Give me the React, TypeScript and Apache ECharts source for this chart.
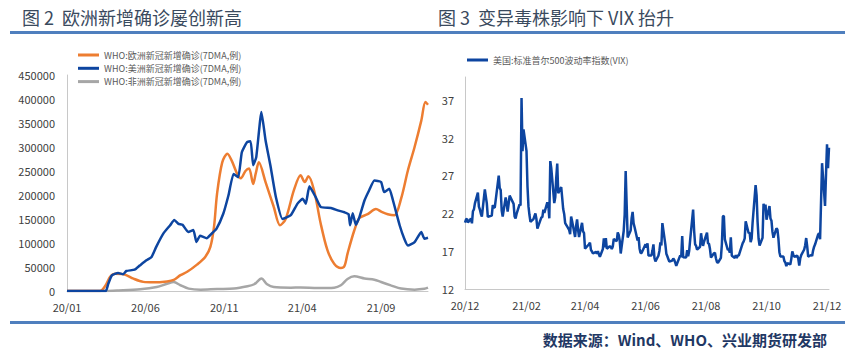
import React, { useEffect, useRef } from 'react';
import * as echarts from 'echarts';

// ---------- Left chart: WHO new cases (7DMA) ----------
const leftStart = '2020-01-01';
const leftEnd = '2021-12-01';
const leftLabelDates = ['2020-01-01', '2020-06-01', '2020-11-01', '2021-04-01', '2021-09-01'];

const europeDates = [
  '2020-01-01', '2020-03-05', '2020-03-16', '2020-03-25', '2020-04-03', '2020-04-20', '2020-05-09',
  '2020-05-28', '2020-06-17', '2020-07-13', '2020-07-26', '2020-08-08', '2020-08-21', '2020-09-09',
  '2020-09-25', '2020-10-05', '2020-10-12', '2020-10-18', '2020-10-28', '2020-11-07', '2020-11-16',
  '2020-11-26', '2020-12-03', '2020-12-12', '2020-12-19', '2020-12-27', '2021-01-01', '2021-01-07',
  '2021-01-20', '2021-02-05', '2021-02-17', '2021-02-28', '2021-03-16', '2021-03-29', '2021-04-06',
  '2021-04-13', '2021-04-24', '2021-05-07', '2021-05-20', '2021-06-02', '2021-06-15', '2021-06-22',
  '2021-06-28', '2021-07-11', '2021-07-21', '2021-08-06', '2021-08-22', '2021-09-02', '2021-09-14',
  '2021-09-27', '2021-10-10', '2021-10-23', '2021-11-05', '2021-11-18', '2021-11-26', '2021-12-01',
];
const europeValues = [
  0, 0, 12000, 30000, 36000, 35000, 25700,
  19000, 18000, 20000, 23000, 33000, 40000, 55000,
  71000, 92000, 133000, 203000, 268000, 286000, 270000,
  244000, 235000, 250000, 255000, 223000, 245000, 268000,
  227000, 175000, 137000, 150000, 210000, 241000, 227000,
  239000, 210000, 140000, 85000, 57000, 48000, 52000,
  78000, 126000, 152000, 160000, 171000, 165000, 160000,
  158000, 193000, 251000, 300000, 355000, 394000, 388000,
];

const americasDates = [
  '2020-01-01', '2020-03-16', '2020-03-21', '2020-03-28', '2020-04-09', '2020-04-19', '2020-04-25',
  '2020-05-11', '2020-05-21', '2020-06-03', '2020-06-13', '2020-06-22', '2020-07-06', '2020-07-19',
  '2020-07-27', '2020-08-04', '2020-08-12', '2020-08-23', '2020-09-02', '2020-09-08', '2020-09-15',
  '2020-09-28', '2020-10-07', '2020-10-17', '2020-10-30', '2020-11-09', '2020-11-19', '2020-11-28',
  '2020-12-05', '2020-12-15', '2020-12-22', '2020-12-27', '2021-01-02', '2021-01-12', '2021-01-20',
  '2021-01-30', '2021-02-09', '2021-02-22', '2021-03-10', '2021-03-23', '2021-04-02', '2021-04-08',
  '2021-04-15', '2021-04-27', '2021-05-07', '2021-05-27', '2021-06-09', '2021-06-22', '2021-06-30',
  '2021-07-03', '2021-07-08', '2021-07-14', '2021-07-21', '2021-07-31', '2021-08-09', '2021-08-19',
  '2021-09-01', '2021-09-07', '2021-09-17', '2021-09-24', '2021-10-07', '2021-10-16', '2021-10-23',
  '2021-11-05', '2021-11-18', '2021-11-24', '2021-12-01',
];
const americasValues = [
  0, 0, 15000, 32700, 37500, 35000, 41600,
  44400, 53000, 64000, 71000, 92000, 120000, 137000,
  148000, 140000, 138000, 123000, 127000, 102000, 115000,
  110000, 119000, 130000, 161000, 199000, 244000, 237000,
  289000, 310000, 312000, 262000, 279000, 373000, 314000,
  258000, 196000, 150000, 158000, 182000, 192000, 182000,
  218000, 196000, 175000, 173000, 168000, 164000, 160000,
  137000, 162000, 138000, 154000, 189000, 210000, 230000,
  227000, 206000, 213000, 189000, 137000, 109000, 95000,
  102000, 123000, 109000, 111000,
];

const africaDates = [
  '2020-01-01', '2020-03-15', '2020-04-10', '2020-05-22', '2020-06-23', '2020-07-13', '2020-07-26',
  '2020-08-08', '2020-08-24', '2020-09-16', '2020-10-18', '2020-11-20', '2020-12-16', '2020-12-29',
  '2021-01-12', '2021-01-23', '2021-02-05', '2021-03-10', '2021-03-29', '2021-05-01', '2021-06-02',
  '2021-06-15', '2021-06-28', '2021-07-11', '2021-07-31', '2021-08-19', '2021-09-01', '2021-09-20',
  '2021-10-10', '2021-11-05', '2021-11-24', '2021-12-01',
];
const africaValues = [
  0, 0, 1000, 3500, 8300, 15000, 18500,
  12000, 5000, 2800, 4200, 5000, 9700, 14000,
  26000, 14000, 8300, 7000, 7500, 6200, 7000,
  12000, 25000, 30500, 26000, 23600, 18700, 11800,
  5000, 2800, 4500, 7000,
];

// ---------- Right chart: VIX ----------
const rightStart = '2020-12-01';
const rightEnd = '2021-12-03';
const rightLabelDates = ['2020-12-01', '2021-02-01', '2021-04-01', '2021-06-01', '2021-08-01', '2021-10-01', '2021-12-01'];

const vixData: [string, number][] = [
  ['2020-12-01', 20.77], ['2020-12-02', 21.17], ['2020-12-03', 21.28], ['2020-12-04', 20.79],
  ['2020-12-07', 21.3], ['2020-12-08', 20.68], ['2020-12-09', 22.27], ['2020-12-10', 22.52],
  ['2020-12-11', 23.31], ['2020-12-14', 24.72], ['2020-12-15', 22.89], ['2020-12-16', 22.5],
  ['2020-12-17', 21.93], ['2020-12-18', 21.57], ['2020-12-21', 25.16], ['2020-12-22', 24.23],
  ['2020-12-23', 23.31], ['2020-12-24', 21.53], ['2020-12-28', 21.7], ['2020-12-29', 23.08],
  ['2020-12-30', 22.77], ['2020-12-31', 22.75],
  ['2021-01-04', 26.97], ['2021-01-05', 25.34], ['2021-01-06', 25.07], ['2021-01-07', 22.37],
  ['2021-01-08', 21.56], ['2021-01-11', 24.08], ['2021-01-12', 23.33], ['2021-01-13', 22.21],
  ['2021-01-14', 23.25], ['2021-01-15', 24.34], ['2021-01-19', 23.24], ['2021-01-20', 21.58],
  ['2021-01-21', 21.32], ['2021-01-22', 21.91], ['2021-01-25', 23.19], ['2021-01-26', 23.02],
  ['2021-01-27', 37.21], ['2021-01-28', 30.21], ['2021-01-29', 33.09],
  ['2021-02-01', 30.24], ['2021-02-02', 25.56], ['2021-02-03', 22.91], ['2021-02-04', 21.77],
  ['2021-02-05', 20.87], ['2021-02-08', 21.24], ['2021-02-09', 21.63], ['2021-02-10', 21.99],
  ['2021-02-11', 21.25], ['2021-02-12', 19.97], ['2021-02-16', 21.46], ['2021-02-17', 21.5],
  ['2021-02-18', 22.49], ['2021-02-19', 22.05], ['2021-02-22', 23.45], ['2021-02-23', 23.11],
  ['2021-02-24', 21.34], ['2021-02-25', 28.89], ['2021-02-26', 27.95],
  ['2021-03-01', 23.35], ['2021-03-02', 24.1], ['2021-03-03', 26.67], ['2021-03-04', 28.57],
  ['2021-03-05', 24.66], ['2021-03-08', 25.47], ['2021-03-09', 24.03], ['2021-03-10', 22.56],
  ['2021-03-11', 21.91], ['2021-03-12', 20.69], ['2021-03-15', 20.03], ['2021-03-16', 19.79],
  ['2021-03-17', 19.23], ['2021-03-18', 21.58], ['2021-03-19', 20.95], ['2021-03-22', 18.88],
  ['2021-03-23', 20.3], ['2021-03-24', 21.2], ['2021-03-25', 19.81], ['2021-03-26', 18.86],
  ['2021-03-29', 20.74], ['2021-03-30', 19.61], ['2021-03-31', 19.4],
  ['2021-04-01', 17.33], ['2021-04-05', 17.91], ['2021-04-06', 18.12], ['2021-04-07', 17.16],
  ['2021-04-08', 16.95], ['2021-04-09', 16.69], ['2021-04-12', 16.91], ['2021-04-13', 16.65],
  ['2021-04-14', 16.99], ['2021-04-15', 16.57], ['2021-04-16', 16.25], ['2021-04-19', 17.29],
  ['2021-04-20', 18.68], ['2021-04-21', 17.5], ['2021-04-22', 18.71], ['2021-04-23', 17.33],
  ['2021-04-26', 17.64], ['2021-04-27', 17.56], ['2021-04-28', 17.28], ['2021-04-29', 17.61],
  ['2021-04-30', 18.61],
  ['2021-05-03', 18.31], ['2021-05-04', 19.48], ['2021-05-05', 19.15], ['2021-05-06', 18.39],
  ['2021-05-07', 16.69], ['2021-05-10', 19.66], ['2021-05-11', 21.84], ['2021-05-12', 27.59],
  ['2021-05-13', 23.13], ['2021-05-14', 18.81], ['2021-05-17', 19.72], ['2021-05-18', 21.34],
  ['2021-05-19', 22.18], ['2021-05-20', 20.67], ['2021-05-21', 20.15], ['2021-05-24', 18.4],
  ['2021-05-25', 18.84], ['2021-05-26', 17.36], ['2021-05-27', 16.74], ['2021-05-28', 16.76],
  ['2021-06-01', 17.9], ['2021-06-02', 17.48], ['2021-06-03', 18.04], ['2021-06-04', 16.42],
  ['2021-06-07', 16.42], ['2021-06-08', 17.07], ['2021-06-09', 17.89], ['2021-06-10', 16.1],
  ['2021-06-11', 15.65], ['2021-06-14', 16.39], ['2021-06-15', 17.02], ['2021-06-16', 18.15],
  ['2021-06-17', 17.75], ['2021-06-18', 20.7], ['2021-06-21', 17.89], ['2021-06-22', 16.66],
  ['2021-06-23', 16.32], ['2021-06-24', 15.97], ['2021-06-25', 15.62], ['2021-06-28', 15.76],
  ['2021-06-29', 16.02], ['2021-06-30', 15.83],
  ['2021-07-01', 15.48], ['2021-07-02', 15.07], ['2021-07-06', 16.44], ['2021-07-07', 16.2],
  ['2021-07-08', 19.0], ['2021-07-09', 16.18], ['2021-07-12', 16.17], ['2021-07-13', 17.12],
  ['2021-07-14', 16.33], ['2021-07-15', 17.01], ['2021-07-16', 18.45], ['2021-07-19', 22.5],
  ['2021-07-20', 19.73], ['2021-07-21', 17.91], ['2021-07-22', 17.69], ['2021-07-23', 17.2],
  ['2021-07-26', 17.58], ['2021-07-27', 19.36], ['2021-07-28', 18.31], ['2021-07-29', 17.7],
  ['2021-07-30', 18.24],
  ['2021-08-02', 19.46], ['2021-08-03', 18.04], ['2021-08-04', 17.97], ['2021-08-05', 17.28],
  ['2021-08-06', 16.15], ['2021-08-09', 16.72], ['2021-08-10', 16.79], ['2021-08-11', 16.06],
  ['2021-08-12', 15.59], ['2021-08-13', 15.45], ['2021-08-16', 16.12], ['2021-08-17', 17.91],
  ['2021-08-18', 21.57], ['2021-08-19', 21.67], ['2021-08-20', 18.56], ['2021-08-23', 17.15],
  ['2021-08-24', 17.22], ['2021-08-25', 16.79], ['2021-08-26', 18.84], ['2021-08-27', 16.39],
  ['2021-08-30', 16.11], ['2021-08-31', 16.48],
  ['2021-09-01', 16.11], ['2021-09-02', 16.41], ['2021-09-03', 16.41], ['2021-09-07', 18.05],
  ['2021-09-08', 18.29], ['2021-09-09', 18.68], ['2021-09-10', 20.95], ['2021-09-13', 19.37],
  ['2021-09-14', 19.46], ['2021-09-15', 18.18], ['2021-09-16', 18.69], ['2021-09-17', 20.81],
  ['2021-09-20', 25.71], ['2021-09-21', 24.36], ['2021-09-22', 20.87], ['2021-09-23', 18.63],
  ['2021-09-24', 17.75], ['2021-09-27', 18.76], ['2021-09-28', 23.25], ['2021-09-29', 22.56],
  ['2021-09-30', 23.14],
  ['2021-10-01', 21.15], ['2021-10-04', 22.96], ['2021-10-05', 21.3], ['2021-10-06', 21.0],
  ['2021-10-07', 19.54], ['2021-10-08', 18.77], ['2021-10-11', 20.0], ['2021-10-12', 19.85],
  ['2021-10-13', 18.64], ['2021-10-14', 16.86], ['2021-10-15', 16.3], ['2021-10-18', 16.3],
  ['2021-10-19', 15.7], ['2021-10-20', 15.49], ['2021-10-21', 15.01], ['2021-10-22', 15.43],
  ['2021-10-25', 15.24], ['2021-10-26', 15.98], ['2021-10-27', 16.98], ['2021-10-28', 16.53],
  ['2021-10-29', 16.26],
  ['2021-11-01', 16.41], ['2021-11-02', 16.03], ['2021-11-03', 15.1], ['2021-11-04', 16.03],
  ['2021-11-05', 16.48], ['2021-11-08', 17.22], ['2021-11-09', 17.78], ['2021-11-10', 18.73],
  ['2021-11-11', 17.66], ['2021-11-12', 16.29], ['2021-11-15', 16.49], ['2021-11-16', 16.37],
  ['2021-11-17', 17.11], ['2021-11-18', 17.59], ['2021-11-19', 17.91], ['2021-11-22', 19.17],
  ['2021-11-23', 19.38], ['2021-11-24', 18.58], ['2021-11-26', 28.62], ['2021-11-29', 22.96],
  ['2021-11-30', 27.19],
  ['2021-12-01', 31.12], ['2021-12-02', 27.95], ['2021-12-03', 30.67],
];

// ---------- texts ----------
const leftTitle = '图 2  欧洲新增确诊屡创新高';
const rightTitle = '图 3  变异毒株影响下 VIX 抬升';
const sourceText = '数据来源：Wind、WHO、兴业期货研发部';
const seriesNames = ['WHO:欧洲新冠新增确诊(7DMA,例)', 'WHO:美洲新冠新增确诊(7DMA,例)', 'WHO:非洲新冠新增确诊(7DMA,例)'];
const vixName = '美国:标准普尔500波动率指数(VIX)';

function dayList(start: string, end: string): string[] {
  const out: string[] = [];
  const [sy, sm, sd] = start.split('-').map(Number);
  const [ey, em, ed] = end.split('-').map(Number);
  let t = Date.UTC(sy, sm - 1, sd);
  const e = Date.UTC(ey, em - 1, ed);
  while (t <= e) {
    out.push(new Date(t).toISOString().slice(0, 10));
    t += 86400000;
  }
  return out;
}

function toPairs(cats: string[], dates: string[], values: number[]) {
  const idx = new Map(cats.map((d, i) => [d, i] as [string, number]));
  return dates.map((d, i) => [idx.get(d) as number, values[i]]);
}

const FONT = "'Noto Sans CJK SC', 'Noto Sans', sans-serif";
const ORANGE = '#ED7D31';
const BLUE = '#0D45A0';
const GRAY = '#A6A6A6';
const AXIS = '#C8C8C8';
const LABEL = '#404040';

export default function App() {
  const ref = useRef<HTMLDivElement>(null);

  useEffect(() => {
    if (!ref.current) return;
    const chart = echarts.init(ref.current, undefined, { renderer: 'svg' });

    const leftCats = dayList(leftStart, leftEnd);
    const rightCats = dayList(rightStart, rightEnd);
    const leftSet = new Set(leftLabelDates);
    const rightSet = new Set(rightLabelDates);
    const fmt = (v: string) => v.slice(2, 4) + '/' + v.slice(5, 7);

    const xCommon = {
      type: 'category' as const,
      boundaryGap: false,
      axisLine: { show: true, lineStyle: { color: AXIS, width: 1 } },
      axisTick: { show: false },
      splitLine: { show: false },
    };

    const legendText = { fontSize: 9, color: '#595959', fontFamily: FONT, lineHeight: 12 };

    chart.setOption({
      animation: false,
      backgroundColor: '#ffffff',
      textStyle: { fontFamily: FONT },
      grid: [
        { left: 67, top: 75, width: 361, height: 216 },
        { left: 465, top: 77, width: 364, height: 212 },
      ],
      legend: [
        {
          orient: 'vertical',
          left: 78,
          top: 49,
          padding: 0,
          icon: 'rect',
          itemWidth: 21,
          itemHeight: 3,
          itemGap: 1.3,
          textStyle: legendText,
          data: seriesNames,
        },
        {
          left: 467,
          top: 54,
          padding: 0,
          icon: 'rect',
          itemWidth: 21,
          itemHeight: 3,
          textStyle: legendText,
          data: [vixName],
        },
      ],
      xAxis: [
        {
          ...xCommon,
          gridIndex: 0,
          data: leftCats,
          axisLabel: {
            interval: (_i: number, v: string) => leftSet.has(v),
            formatter: fmt,
            color: LABEL,
            fontSize: 11,
            margin: 10,
            fontFamily: FONT,
          },
        },
        {
          ...xCommon,
          gridIndex: 1,
          data: rightCats,
          axisLabel: {
            interval: (_i: number, v: string) => rightSet.has(v),
            formatter: fmt,
            color: LABEL,
            fontSize: 11,
            margin: 10,
            fontFamily: FONT,
          },
        },
      ],
      yAxis: [
        {
          type: 'value',
          gridIndex: 0,
          min: 0,
          max: 450000,
          interval: 50000,
          axisLine: { show: true, lineStyle: { color: AXIS, width: 1 } },
          axisTick: { show: false },
          splitLine: { show: false },
          axisLabel: {
            color: LABEL,
            fontSize: 11,
            margin: 12,
            fontFamily: FONT,
            formatter: (v: number) => String(v),
          },
        },
        {
          type: 'value',
          gridIndex: 1,
          min: 12,
          max: 40,
          interval: 5,
          axisLine: { show: true, lineStyle: { color: AXIS, width: 1 } },
          axisTick: { show: false },
          splitLine: { show: false },
          axisLabel: {
            color: LABEL,
            fontSize: 11,
            margin: 11,
            fontFamily: FONT,
            showMaxLabel: false,
            formatter: (v: number) => String(v),
          },
        },
      ],
      series: [
        {
          name: seriesNames[0],
          type: 'line',
          xAxisIndex: 0,
          yAxisIndex: 0,
          showSymbol: false,
          smooth: 0.3,
          z: 3,
          lineStyle: { color: ORANGE, width: 2.5 },
          itemStyle: { color: ORANGE },
          data: toPairs(leftCats, europeDates, europeValues),
        },
        {
          name: seriesNames[1],
          type: 'line',
          xAxisIndex: 0,
          yAxisIndex: 0,
          showSymbol: false,
          smooth: 0.15,
          z: 4,
          lineStyle: { color: BLUE, width: 2.5 },
          itemStyle: { color: BLUE },
          data: toPairs(leftCats, americasDates, americasValues),
        },
        {
          name: seriesNames[2],
          type: 'line',
          xAxisIndex: 0,
          yAxisIndex: 0,
          showSymbol: false,
          smooth: 0.3,
          z: 2,
          lineStyle: { color: GRAY, width: 2.5 },
          itemStyle: { color: GRAY },
          data: toPairs(leftCats, africaDates, africaValues),
        },
        {
          name: vixName,
          type: 'line',
          xAxisIndex: 1,
          yAxisIndex: 1,
          showSymbol: false,
          lineStyle: { color: BLUE, width: 2.5 },
          itemStyle: { color: BLUE },
          data: toPairs(rightCats, vixData.map((d) => d[0]), vixData.map((d) => d[1])),
        },
      ],
      graphic: [
        {
          type: 'text',
          x: 22,
          y: 17,
          style: {
            text: leftTitle,
            fontSize: 18,
            fill: '#3A4A5E',
            fontFamily: FONT,
            textAlign: 'left',
            textVerticalAlign: 'middle',
          },
        },
        {
          type: 'text',
          x: 438,
          y: 17,
          style: {
            text: rightTitle,
            fontSize: 18,
            fill: '#3A4A5E',
            fontFamily: FONT,
            textAlign: 'left',
            textVerticalAlign: 'middle',
          },
        },
        {
          type: 'rect',
          shape: { x: 10, y: 31, width: 835, height: 3 },
          style: { fill: '#4F7FBE' },
        },
        {
          type: 'rect',
          shape: { x: 10, y: 321, width: 835, height: 3 },
          style: { fill: '#4F7FBE' },
        },
        {
          type: 'text',
          x: 827,
          y: 339,
          style: {
            text: sourceText,
            fontSize: 15,
            fontWeight: 'bold',
            fill: '#1F3864',
            fontFamily: FONT,
            textAlign: 'right',
            textVerticalAlign: 'middle',
          },
        },
      ],
    });

    return () => chart.dispose();
  }, []);

  return (
    <div
      ref={ref}
      style={{ position: 'fixed', left: 0, top: 0, width: 865, height: 361, background: '#fff' }}
    />
  );
}
